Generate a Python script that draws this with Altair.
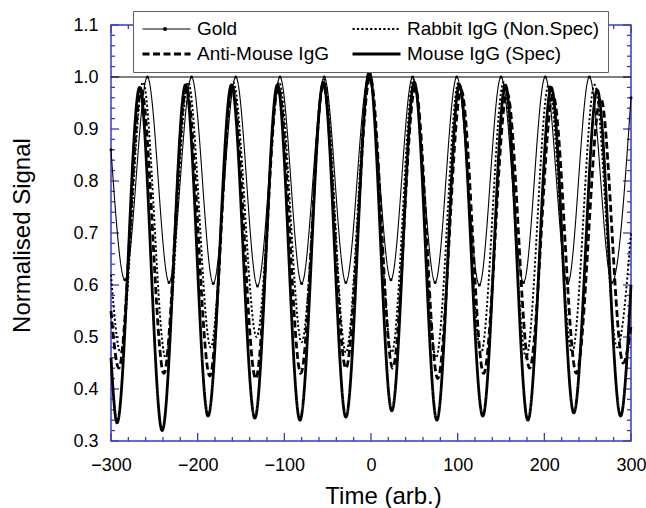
import altair as alt
import pandas as pd

# ---------------- data (extrema of each trace) ----------------
# legend order (filled column by column): Gold, Anti-Mouse | Rabbit, Mouse
series_names = ["Gold", "Anti-Mouse IgG", "Rabbit IgG (Non.Spec)", "Mouse IgG (Spec)"]

gold_x = [-300, -284, -258, -233, -207, -182, -156, -131, -105, -80, -54, -29, -3,
          23, 48, 74, 99, 125, 150, 176, 201, 227, 252, 278, 300]
gold_y = [0.86, 0.61, 1.0, 0.605, 1.0, 0.603, 1.0, 0.598, 1.0, 0.603, 1.0, 0.605, 1.0,
          0.61, 1.0, 0.605, 1.0, 0.60, 1.0, 0.605, 1.0, 0.603, 1.0, 0.605, 0.96]

anti_x = [-300, -291, -265, -239, -213, -186, -160, -133, -107, -81, -55, -29, -1,
          25, 51, 77, 104, 130, 157, 183, 210, 237, 265, 291, 300]
anti_y = [0.55, 0.44, 0.975, 0.43, 0.98, 0.425, 0.98, 0.42, 0.98, 0.43, 0.985, 0.44, 1.0,
          0.44, 0.98, 0.42, 0.975, 0.43, 0.97, 0.44, 0.965, 0.43, 0.96, 0.45, 0.52]

rabbit_x = [-300, -289, -263, -237, -211, -185, -159, -132, -106, -80, -54, -29, -2,
            24, 49, 75, 101, 127, 153, 179, 205, 232, 258, 284, 300]
rabbit_y = [0.62, 0.47, 0.99, 0.46, 0.99, 0.48, 0.99, 0.50, 0.99, 0.49, 0.995, 0.47, 1.005,
            0.47, 0.995, 0.46, 0.99, 0.47, 0.99, 0.46, 0.985, 0.47, 0.985, 0.48, 0.70]

mouse_x = [-300, -293, -267, -241, -214, -188, -161, -134, -108, -82, -55, -29, -2,
           24, 50, 76, 102, 129, 155, 181, 208, 234, 261, 288, 300]
mouse_y = [0.46, 0.335, 0.98, 0.32, 0.985, 0.348, 0.985, 0.344, 0.985, 0.34, 0.99, 0.346, 1.01,
           0.358, 0.99, 0.34, 0.985, 0.348, 0.985, 0.34, 0.98, 0.354, 0.975, 0.348, 0.60]

reference_level = [1.0]

x_major = [-300, -200, -100, 0, 100, 200, 300]
x_minor = [v for v in range(-300, 301, 20) if v % 100 != 0]
y_major = [0.3, 0.4, 0.5, 0.6, 0.7, 0.8, 0.9, 1.0, 1.1]
y_minor = [round(0.3 + 0.02 * i, 2) for i in range(41) if i % 5 != 0]

# ---------------- tables ----------------
rows = []
for name, xs, ys in [(series_names[0], gold_x, gold_y),
                     (series_names[1], anti_x, anti_y),
                     (series_names[2], rabbit_x, rabbit_y),
                     (series_names[3], mouse_x, mouse_y)]:
    for a, b in zip(xs, ys):
        rows.append({"series": name, "x": a, "y": b})
df = pd.DataFrame(rows)
gold_df = df[df["series"] == "Gold"].rename(columns={"series": "marker"})

FONT = "Liberation Sans"
BLUE = "#3838c8"
W, H = 520, 416

xscale = alt.Scale(domain=[-300, 300], nice=False, zero=False)
yscale = alt.Scale(domain=[0.3, 1.1], nice=False, zero=False)

xaxis = alt.Axis(values=x_major, format="d", title="Time (arb.)", grid=False, domain=False,
                 ticks=True, tickSize=0, labelFont=FONT, labelFontSize=18, labelColor="black",
                 labelBaseline="alphabetic", labelPadding=29, labelFlush=False,
                 titleFont=FONT, titleFontSize=24, titleFontWeight="normal", titleColor="black",
                 titleX=272, titleY=62, titleBaseline="alphabetic", titleAlign="center")
yaxis = alt.Axis(values=y_major, format=".1f", title="Normalised Signal", grid=False, domain=False,
                 ticks=True, tickSize=0, labelFont=FONT, labelFontSize=18, labelColor="black",
                 labelPadding=13, labelFlush=False,
                 titleFont=FONT, titleFontSize=24, titleFontWeight="normal", titleColor="black",
                 titleX=-77, titleY=210, titleAngle=270, titleBaseline="bottom", titleAlign="center")

X = alt.X("x:Q", scale=xscale, axis=xaxis)
Y = alt.Y("y:Q", scale=yscale, axis=yaxis)

legend = alt.Legend(
    title=None, orient="none", legendX=22, legendY=-14, columns=2,
    fillColor="white", strokeColor="#606060", padding=8,
    labelFont=FONT, labelFontSize=19, labelColor="black", labelLimit=400,
    symbolSize=2304, symbolType="stroke", symbolStrokeColor="black",
    labelOffset=5, columnPadding=22, rowPadding=5, clipHeight=20, zindex=1,
)

# small dot drawn on the middle of the Gold legend symbol
dot_legend = alt.Legend(
    title=None, orient="none", legendX=52, legendY=2, padding=0,
    labelExpr="''", labelFontSize=1, labelOffset=0, labelLimit=1,
    symbolSize=16, symbolFillColor="black", symbolStrokeWidth=0, symbolOpacity=1,
    clipHeight=4, zindex=2,
)

dash_scale = alt.Scale(type="ordinal", domain=series_names,
                       range=[[1, 0], [7, 3.5], [2.2, 2.2], [1, 0]])
width_scale = alt.Scale(type="ordinal", domain=series_names, range=[1.1, 2.8, 1.9, 2.8])

lines = alt.Chart(df).mark_line(interpolate="monotone", color="black").encode(
    x=X, y=Y,
    strokeDash=alt.StrokeDash("series:N", scale=dash_scale, legend=legend, sort=series_names),
    strokeWidth=alt.StrokeWidth("series:N", scale=width_scale, legend=legend, sort=series_names),
    order=alt.Order("x:Q"),
)

gold_pts = alt.Chart(gold_df).mark_point(filled=True, color="black", size=9, opacity=1).encode(
    x=X, y=Y,
    shape=alt.Shape("marker:N", scale=alt.Scale(range=["circle"]), legend=dot_legend),
)

hline = alt.Chart(pd.DataFrame({"y": reference_level})).mark_rule(color="black", strokeWidth=1).encode(y=Y)

def xticks(vals, length):
    d = pd.DataFrame({"x": vals})
    bottom = alt.Chart(d).mark_rule(color=BLUE, strokeWidth=1.3).encode(
        x=X, y=alt.value(H), y2=alt.value(H - length))
    top = alt.Chart(d).mark_rule(color=BLUE, strokeWidth=1.3).encode(
        x=X, y=alt.value(0), y2=alt.value(length))
    return [bottom, top]

def yticks(vals, length):
    d = pd.DataFrame({"y": vals})
    left = alt.Chart(d).mark_rule(color=BLUE, strokeWidth=1.3).encode(
        y=Y, x=alt.value(0), x2=alt.value(length))
    right = alt.Chart(d).mark_rule(color=BLUE, strokeWidth=1.3).encode(
        y=Y, x=alt.value(W), x2=alt.value(W - length))
    return [left, right]

tick_layers = xticks(x_major, 8) + xticks(x_minor, 4) + yticks(y_major, 8) + yticks(y_minor, 4)

chart = alt.layer(*tick_layers, hline, lines, gold_pts).properties(
    width=W, height=H,
    autosize=alt.AutoSizeParams(type="none"),
    padding={"left": 111, "top": 25, "right": 15, "bottom": 67},
    background="white",
).configure_view(stroke=BLUE, strokeWidth=1.5)

chart.save("out.html", embed_options={"renderer": "svg", "actions": False})
